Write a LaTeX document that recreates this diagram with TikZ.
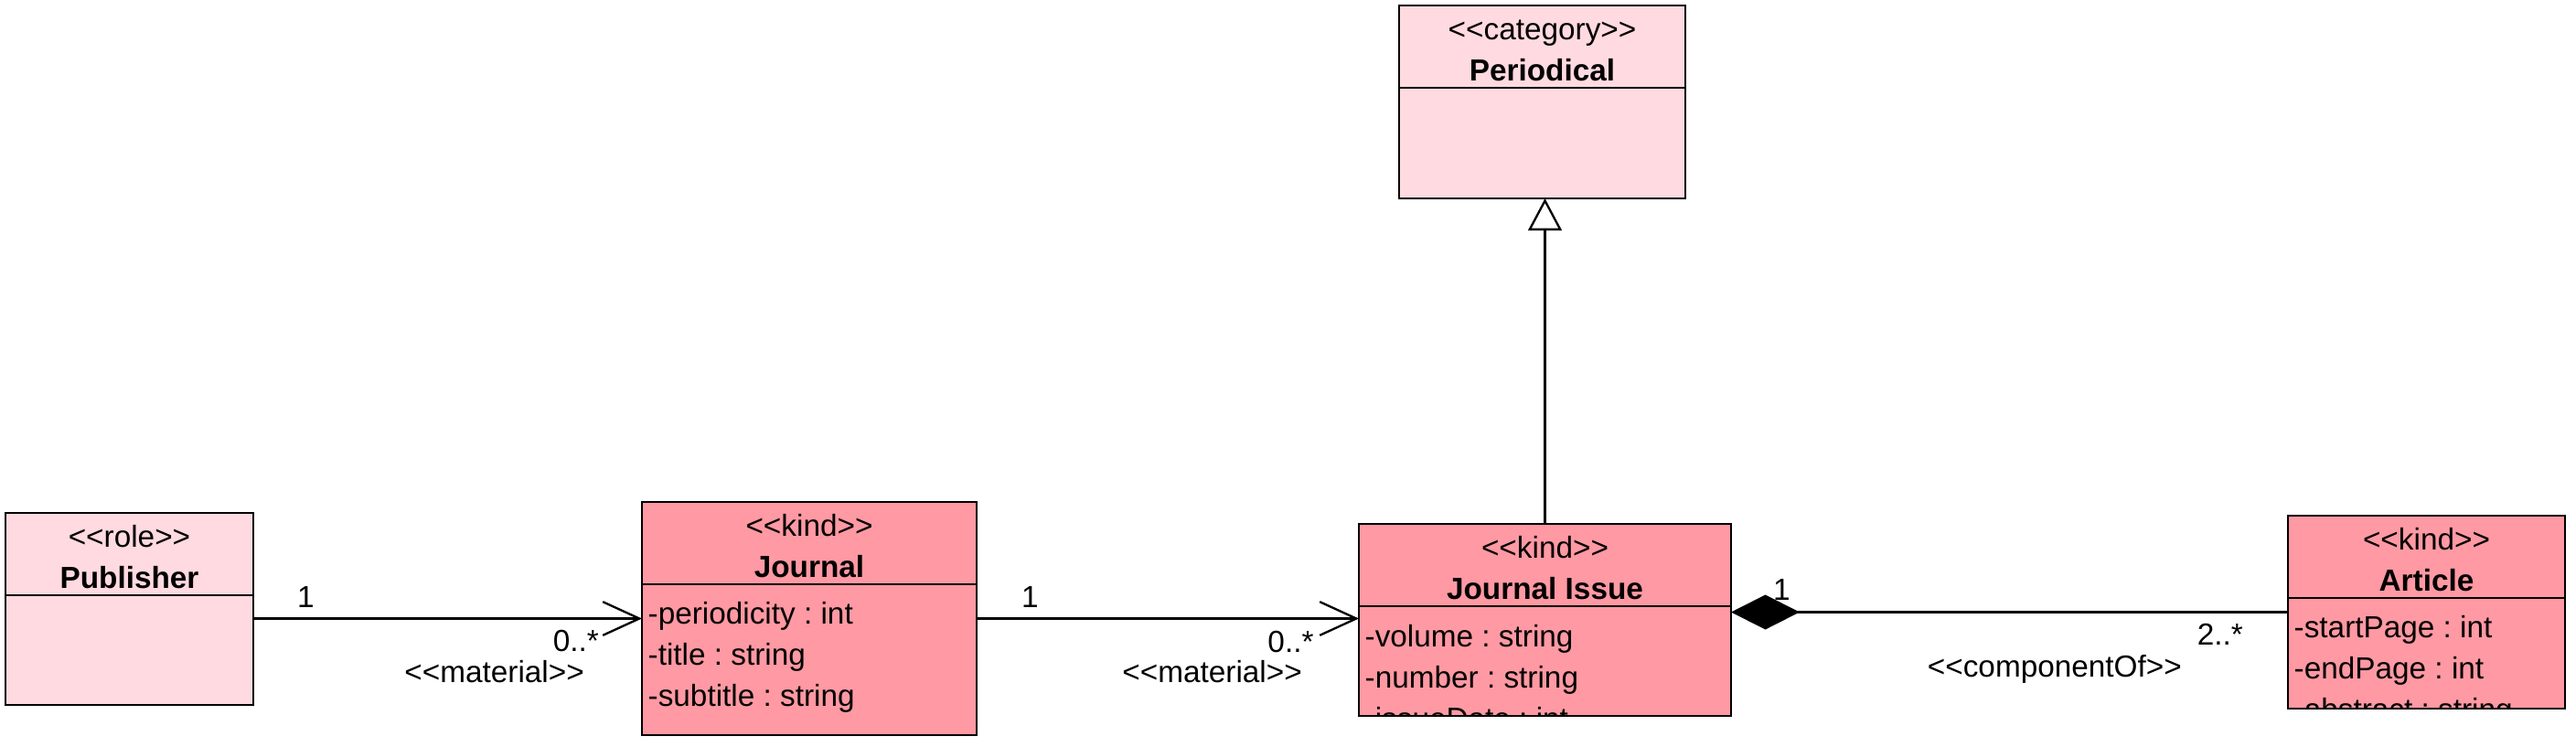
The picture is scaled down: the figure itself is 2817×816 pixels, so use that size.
\documentclass[tikz,border=0pt]{standalone}
\usepackage{fontspec}
\usepackage{tikz}
\usepackage{xcolor}
\usetikzlibrary{arrows.meta, positioning, calc}

\newfontfamily\umlfont{Liberation Sans}
\definecolor{rolepink}{RGB}{255,218,224}
\definecolor{kindpink}{RGB}{255,153,163}
\frenchspacing

\begin{document}
\begin{tikzpicture}[x=0.3pt, y=-0.3pt,
    every node/.style={font=\umlfont\fontsize{10}{12}\selectfont, inner sep=0pt, text height=7.2pt, text depth=0pt},
    classbox/.style={draw, rectangle, line width=0.8pt, outer sep=0pt},
    classname/.style={font=\umlfont\fontsize{10}{12}\selectfont\bfseries},
    attr/.style={anchor=west},
    assoc/.style={line width=0.7pt, -{Straight Barb[length=12pt, width=11pt, line width=0.7pt]}},
    comp/.style={line width=0.7pt, {Diamond[length=22.5pt, width=11.4pt]}-},
    gen/.style={line width=0.7pt, -{Triangle[open, length=10.5pt, width=11pt, fill=white]}}]
    \useasboundingbox (0,0) rectangle (2817,816);

    % classes
    \node[classbox, fill=rolepink, minimum width=93.9pt, minimum height=63.3pt] (periodical) at (1686.5,111.5) {};
    \node[classbox, fill=rolepink, minimum width=81.3pt, minimum height=63pt] (publisher) at (141.5,666) {};
    \node[classbox, fill=kindpink, minimum width=109.8pt, minimum height=76.5pt] (journal) at (885,676.5) {};
    \node[classbox, fill=kindpink, minimum width=122.1pt, minimum height=63pt] (issue) at (1689.5,678) {};
    \node[classbox, fill=kindpink, minimum width=90.9pt, minimum height=63.3pt] (article) at (2653.5,669.5) {};

    \foreach \cls/\st/\nm in {periodical/category/Periodical, publisher/role/Publisher, journal/kind/Journal, issue/kind/Journal Issue, article/kind/Article} {
        \node at ($(\cls.north)+(0,25)$) {<<\st>>};
        \node[classname] at ($(\cls.north)+(0,70)$) {\nm};
        \draw[line width=0.8pt] ($(\cls.north west)+(0,90)$) -- ($(\cls.north east)+(0,90)$);
    }

    % attributes
    \foreach \txt [count=\i] in {-periodicity : int, -title : string, -subtitle : string}
        \node[attr] at ($(journal.north west)+(6,121+45*\i-45)$) {\txt};
    \begin{scope}
        \clip (issue.north west) rectangle ($(issue.south east)+(0,-1.5)$);
        \foreach \txt [count=\i] in {-volume : string, -number : string, -issueDate : int}
            \node[attr] at ($(issue.north west)+(6,122+45*\i-45)$) {\txt};
    \end{scope}
    \begin{scope}
        \clip (article.north west) rectangle ($(article.south east)+(0,-1.5)$);
        \foreach \txt [count=\i] in {-startPage : int, -endPage : int, -abstract : string}
            \node[attr] at ($(article.north west)+(6,121+45*\i-45)$) {\txt};
    \end{scope}

    % relations
    \draw[assoc] (publisher.east |- journal.west) -- (journal.west)
        node[pos=0, anchor=south west, xshift=14.1pt, yshift=3.3pt] {1}
        node[pos=1, anchor=north east, xshift=-13.8pt, yshift=-3.3pt] {0..*}
        node[pos=1, anchor=north east, xshift=-18.6pt, yshift=-13.5pt] {<<material>>};
    \draw[assoc] (journal.east) -- (journal.east -| issue.west)
        node[pos=0, anchor=south west, xshift=14.4pt, yshift=3.3pt] {1}
        node[pos=1, anchor=north east, xshift=-14.5pt, yshift=-3.6pt] {0..*}
        node[pos=1, anchor=north east, xshift=-18.3pt, yshift=-13.5pt] {<<material>>};
    \draw[comp] (issue.east |- article.west) -- (article.west)
        node[pos=0, anchor=south west, xshift=13.5pt, yshift=3.6pt] {1}
        node[pos=1, anchor=north east, xshift=-14.4pt, yshift=-3.3pt] {2..*}
        node[pos=1, anchor=north east, xshift=-34.5pt, yshift=-13.8pt] {<<componentOf>>};
    \draw[gen] (issue.north) -- (issue.north |- periodical.south);
\end{tikzpicture}
\end{document}
